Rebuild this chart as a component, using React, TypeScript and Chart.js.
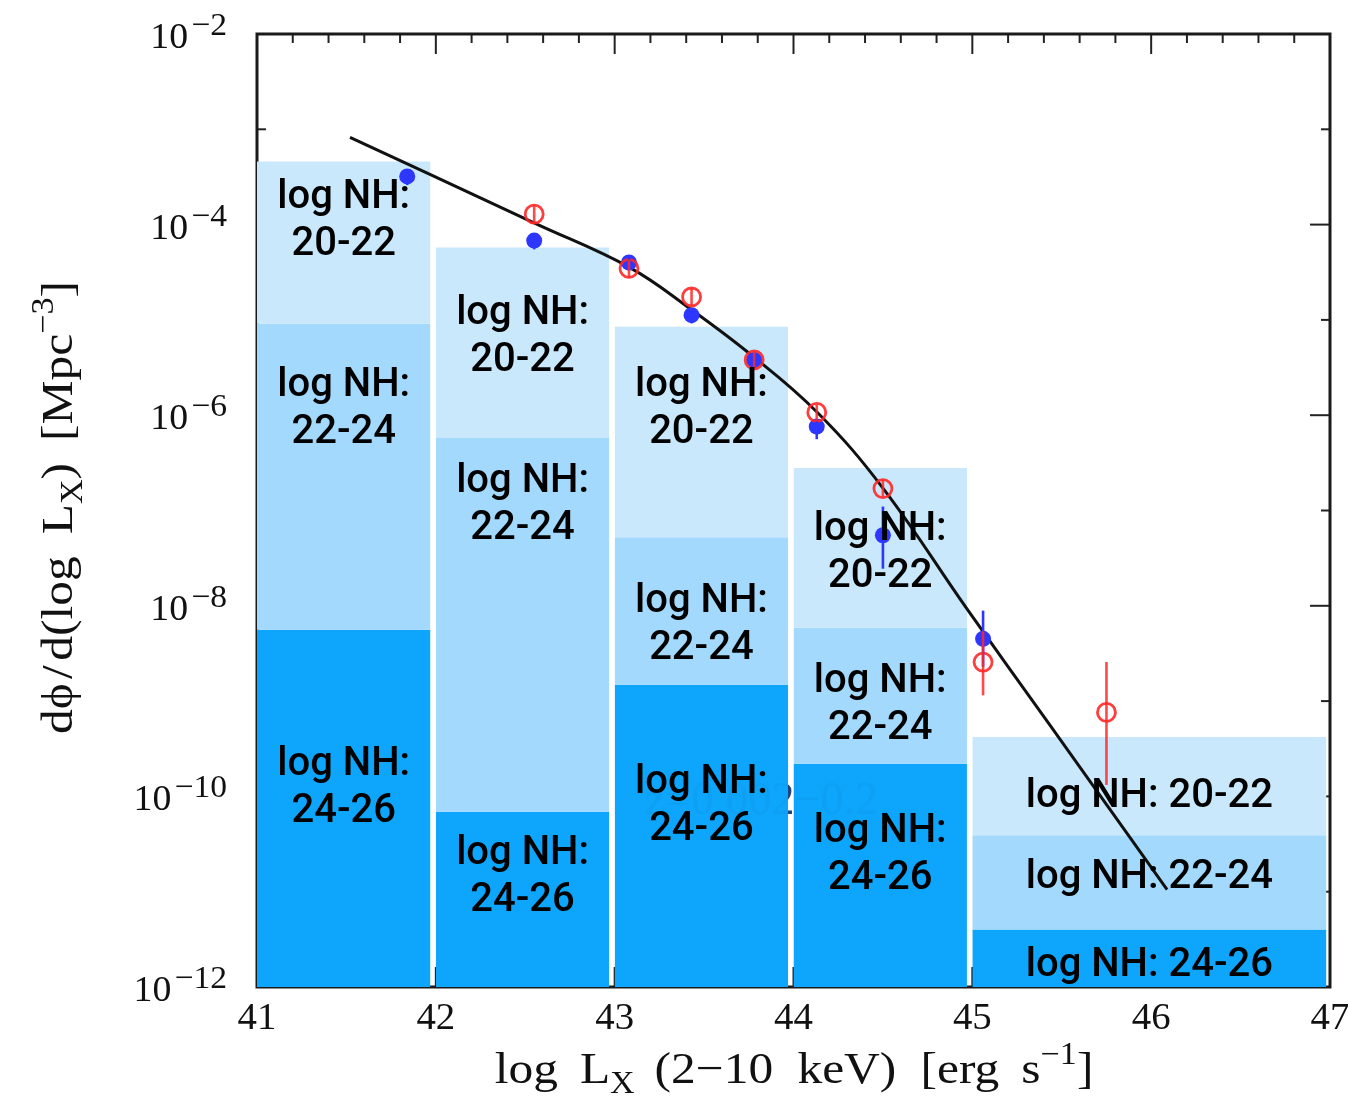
import React, { useEffect, useRef } from "react";
import { Chart, registerables } from "chart.js";

Chart.register(...registerables);

// ---------------- data ----------------
// luminosity bins (log Lx) covered by each stacked column
const binLow = [41, 42, 43, 44, 45];
const binHigh = [41.97, 42.97, 43.97, 44.97, 46.98];
// upper edge (dPhi/dlogLx) of each NH class in each column; lower edge of the last one is the axis floor
const nh2022Top = [4.6e-4, 5.75e-5, 8.5e-6, 2.8e-7, 4.2e-10];
const nh2224Top = [9.1e-6, 5.75e-7, 5.25e-8, 5.9e-9, 3.9e-11];
const nh2426Top = [5.6e-9, 6.9e-11, 1.48e-9, 2.2e-10, 4.0e-12];
const phiFloor = 1e-12;
const nhClasses = ["20-22", "22-24", "24-26"];

// model luminosity function curve
const modelLogL = [41.52, 41.967, 42.555, 43.087, 43.422, 43.757, 44.131, 44.501, 44.97, 45.434, 46.089];
const modelPhi = [8.24e-4, 3.36e-4, 1.03e-4, 3.52e-5, 1.31e-5, 4.39e-6, 1.08e-6, 1.71e-7, 9.29e-9, 5.58e-10, 1.05e-11];

// filled blue points
const blueLogL = [41.84, 42.55, 43.08, 43.43, 43.78, 44.13, 44.5, 45.06];
const bluePhi = [3.2e-4, 6.8e-5, 4.0e-5, 1.12e-5, 3.8e-6, 7.6e-7, 5.5e-8, 4.5e-9];
const blueErrLow = [2.6e-4, 5.5e-5, 3.3e-5, 9.2e-6, 3.1e-6, 5.6e-7, 2.45e-8, 2.3e-9];
const blueErrHigh = [3.5e-4, 7.5e-5, 4.5e-5, 1.25e-5, 4.2e-6, 8.6e-7, 1.1e-7, 8.9e-9];

// open red points
const redLogL = [42.55, 43.08, 43.43, 43.78, 44.13, 44.5, 45.06, 45.75];
const redPhi = [1.29e-4, 3.47e-5, 1.74e-5, 3.8e-6, 1.07e-6, 1.7e-7, 2.57e-9, 7.6e-10];
const redErrLow = [1.05e-4, 2.8e-5, 1.4e-5, 3.1e-6, 8.7e-7, 1.4e-7, 1.15e-9, 1.32e-10];
const redErrHigh = [1.58e-4, 4.3e-5, 2.15e-5, 4.7e-6, 1.3e-6, 2.1e-7, 5.4e-9, 2.57e-9];

// axis ticks
const xTickLabels = [41, 42, 43, 44, 45, 46, 47];
const yTickExponents = [-2, -4, -6, -8, -10, -12];

// ---------------- styling / annotation placement ----------------
const SERIF = '"Liberation Serif", "Times New Roman", serif';
const SANS = 'Roboto, "Liberation Sans", Arial, sans-serif';
const nhColors = ["#C9E8FC", "#A3D9FC", "#0DA6FC"];
// vertical anchor (value) of each NH label block, per column and class
const labelAnchorPhi = [
  [1.07e-4, 1.15e-6, 1.2e-10],
  [6.6e-6, 1.12e-7, 1.41e-11],
  [1.15e-6, 6.2e-9, 7.8e-11],
  [3.5e-8, 8.9e-10, 2.4e-11],
  [9.8e-11, 1.38e-11, 1.66e-12],
];
const redshiftText = "z=0.002\u22120.2";

type Piece = { t?: string; size?: number; dy?: number; gap?: number };

function drawRich(
  ctx: CanvasRenderingContext2D,
  pieces: Piece[],
  x: number,
  y: number,
  align: "center" | "right",
  sx: number = 1
) {
  let total = 0;
  const widths = pieces.map((p) => {
    if (p.gap !== undefined) {
      total += p.gap;
      return p.gap;
    }
    ctx.font = `${p.size}px ${SERIF}`;
    const w = ctx.measureText(p.t || "").width;
    total += w;
    return w;
  });
  ctx.save();
  ctx.translate(x, y);
  ctx.scale(sx, 1);
  let cx = align === "center" ? -total / 2 : -total;
  ctx.textAlign = "left";
  ctx.textBaseline = "alphabetic";
  pieces.forEach((p, i) => {
    if (p.gap === undefined) {
      ctx.font = `${p.size}px ${SERIF}`;
      ctx.fillText(p.t || "", cx, p.dy || 0);
    }
    cx += widths[i];
  });
  ctx.restore();
}

const decorPlugin = {
  id: "decor",
  beforeDatasetsDraw(chart: any) {
    const { ctx, chartArea: a, scales } = chart;
    const xs = scales.x;
    const ys = scales.y;
    ctx.save();
    // redshift label (mostly hidden behind the columns)
    ctx.font = `46px ${SERIF}`;
    ctx.fillStyle = "#23407f";
    ctx.textAlign = "center";
    ctx.textBaseline = "middle";
    ctx.fillText(redshiftText, xs.getPixelForValue(43.82), ys.getPixelForValue(8.7e-11));

    // inward ticks on all four sides
    ctx.strokeStyle = "#222";
    ctx.lineWidth = 2;
    const seg = (x1: number, y1: number, x2: number, y2: number) => {
      ctx.beginPath();
      ctx.moveTo(x1, y1);
      ctx.lineTo(x2, y2);
      ctx.stroke();
    };
    for (let i = 0; i <= 30; i++) {
      const v = 41 + i * 0.2;
      const px = xs.getPixelForValue(v);
      const len = i % 5 === 0 ? 20 : 9;
      seg(px, a.bottom, px, a.bottom - len);
      seg(px, a.top, px, a.top + len);
    }
    for (let e = -12; e <= -2; e++) {
      const py = ys.getPixelForValue(Math.pow(10, e));
      const len = e % 2 === 0 ? 20 : 9;
      seg(a.left, py, a.left + len, py);
      seg(a.right, py, a.right - len, py);
    }
    ctx.lineWidth = 3;
    ctx.strokeStyle = "#1a1a1a";
    ctx.strokeRect(a.left, a.top, a.right - a.left, a.bottom - a.top);
    ctx.restore();
  },
  afterDatasetsDraw(chart: any) {
    const { ctx, chartArea: a, scales } = chart;
    const xs = scales.x;
    const ys = scales.y;
    ctx.save();
    ctx.beginPath();
    ctx.rect(a.left, a.top, a.right - a.left, a.bottom - a.top);
    ctx.clip();

    // faint redshift label showing through the columns
    ctx.globalAlpha = 0.06;
    ctx.font = `46px ${SERIF}`;
    ctx.fillStyle = "#23407f";
    ctx.textAlign = "center";
    ctx.textBaseline = "middle";
    ctx.fillText(redshiftText, xs.getPixelForValue(43.82), ys.getPixelForValue(8.7e-11));
    ctx.globalAlpha = 1;

    // error bars
    const err = (xv: number[], lo: number[], hi: number[], color: string) => {
      ctx.strokeStyle = color;
      ctx.lineWidth = 2.6;
      xv.forEach((x, i) => {
        const px = xs.getPixelForValue(x);
        ctx.beginPath();
        ctx.moveTo(px, ys.getPixelForValue(lo[i]));
        ctx.lineTo(px, ys.getPixelForValue(hi[i]));
        ctx.stroke();
      });
    };
    err(blueLogL, blueErrLow, blueErrHigh, "rgb(45,55,255)");
    err(redLogL, redErrLow, redErrHigh, "rgba(255,40,40,0.85)");

    // NH class labels
    ctx.fillStyle = "#000";
    ctx.font = `500 40px ${SANS}`;
    ctx.textAlign = "center";
    ctx.textBaseline = "middle";
    binLow.forEach((x0, i) => {
      const cx = xs.getPixelForValue((x0 + binHigh[i]) / 2);
      nhClasses.forEach((cls, c) => {
        const cy = ys.getPixelForValue(labelAnchorPhi[i][c]);
        if (i === binLow.length - 1) {
          ctx.fillText(`log NH: ${cls}`, cx, cy);
        } else {
          ctx.fillText("log NH:", cx, cy - 23.5);
          ctx.fillText(cls, cx, cy + 23.5);
        }
      });
    });
    ctx.restore();
  },
  afterDraw(chart: any) {
    const { ctx, chartArea: a, scales } = chart;
    const xs = scales.x;
    const ys = scales.y;
    ctx.save();
    ctx.fillStyle = "#111";
    // x tick labels
    xTickLabels.forEach((v) => {
      drawRich(ctx, [{ t: String(v), size: 37 }], xs.getPixelForValue(v), a.bottom + 42, "center", 1.05);
    });
    // y tick labels 10^-n
    yTickExponents.forEach((e) => {
      const py = ys.getPixelForValue(Math.pow(10, e));
      drawRich(
        ctx,
        [
          { t: "10", size: 36, dy: 14 },
          { gap: 3 },
          { t: "\u2212" + String(-e), size: 32, dy: 1 },
        ],
        a.left - 30,
        py,
        "right",
        1.05
      );
    });
    // x title
    drawRich(
      ctx,
      [
        { t: "log", size: 45 },
        { gap: 20 },
        { t: "L", size: 45 },
        { t: "X", size: 31, dy: 10 },
        { gap: 18 },
        { t: "(2\u221210", size: 45 },
        { gap: 22 },
        { t: "keV)", size: 45 },
        { gap: 22 },
        { t: "[erg", size: 45 },
        { gap: 20 },
        { t: "s", size: 45 },
        { t: "\u22121", size: 31, dy: -19 },
        { t: "]", size: 45 },
      ],
      794,
      a.bottom + 96,
      "center",
      1.1
    );
    // y title (rotated)
    ctx.translate(72, (a.top + a.bottom) / 2 - 3);
    ctx.rotate(-Math.PI / 2);
    drawRich(
      ctx,
      [
        { t: "d\u03D5", size: 45 },
        { gap: 4 },
        { t: "/", size: 45 },
        { gap: 4 },
        { t: "d(log", size: 45 },
        { gap: 20 },
        { t: "L", size: 45 },
        { t: "X", size: 31, dy: 10 },
        { t: ")", size: 45 },
        { gap: 20 },
        { t: "[Mpc", size: 45 },
        { t: "\u22123", size: 31, dy: -19 },
        { t: "]", size: 45 },
      ],
      0,
      0,
      "center",
      1.1
    );
    ctx.restore();
  },
};

export default function App() {
  const canvasRef = useRef<HTMLCanvasElement | null>(null);

  useEffect(() => {
    if (!canvasRef.current) return;
    const classTops = [nh2022Top, nh2224Top, nh2426Top];
    const barSets: any[] = [];
    binLow.forEach((x0, i) => {
      classTops.forEach((tops, c) => {
        const bottom = c < classTops.length - 1 ? classTops[c + 1][i] : phiFloor;
        barSets.push({
          type: "line",
          label: `NH ${nhClasses[c]} bin ${i}`,
          data: [
            { x: x0, y: tops[i] },
            { x: binHigh[i], y: tops[i] },
          ],
          fill: { value: bottom },
          backgroundColor: nhColors[c],
          borderColor: "rgba(0,0,0,0)",
          borderWidth: 0,
          pointRadius: 0,
          order: 10,
        });
      });
    });

    const chart = new Chart(canvasRef.current, {
      type: "line",
      data: {
        datasets: [
          ...barSets,
          {
            type: "line",
            label: "model",
            data: modelLogL.map((x, i) => ({ x, y: modelPhi[i] })),
            borderColor: "#111",
            borderWidth: 3,
            pointRadius: 0,
            fill: false,
            tension: 0.4,
            order: 2,
          },
          {
            type: "scatter",
            label: "filled",
            data: blueLogL.map((x, i) => ({ x, y: bluePhi[i] })),
            backgroundColor: "rgb(45,55,255)",
            borderColor: "rgb(45,55,255)",
            borderWidth: 0,
            pointRadius: 8,
            showLine: false,
            order: 1,
          },
          {
            type: "scatter",
            label: "open",
            data: redLogL.map((x, i) => ({ x, y: redPhi[i] })),
            backgroundColor: "rgba(0,0,0,0)",
            borderColor: "rgba(255,40,40,0.9)",
            borderWidth: 2.8,
            pointRadius: 9,
            showLine: false,
            order: 0,
          },
        ] as any,
      },
      options: {
        responsive: false,
        maintainAspectRatio: false,
        animation: false,
        events: [],
        layout: { padding: { left: 257, right: 18, top: 34, bottom: 114 } },
        plugins: { legend: { display: false }, tooltip: { enabled: false } },
        scales: {
          x: { type: "linear", min: 41, max: 47, display: false },
          y: { type: "logarithmic", min: 1e-12, max: 1e-2, display: false },
        },
      } as any,
      plugins: [decorPlugin as any],
    });
    return () => chart.destroy();
  }, []);

  return (
    <div style={{ position: "fixed", left: 0, top: 0, width: 1348, height: 1101, background: "#fff" }}>
      <canvas ref={canvasRef} width={1348} height={1101} style={{ display: "block" }} />
    </div>
  );
}
